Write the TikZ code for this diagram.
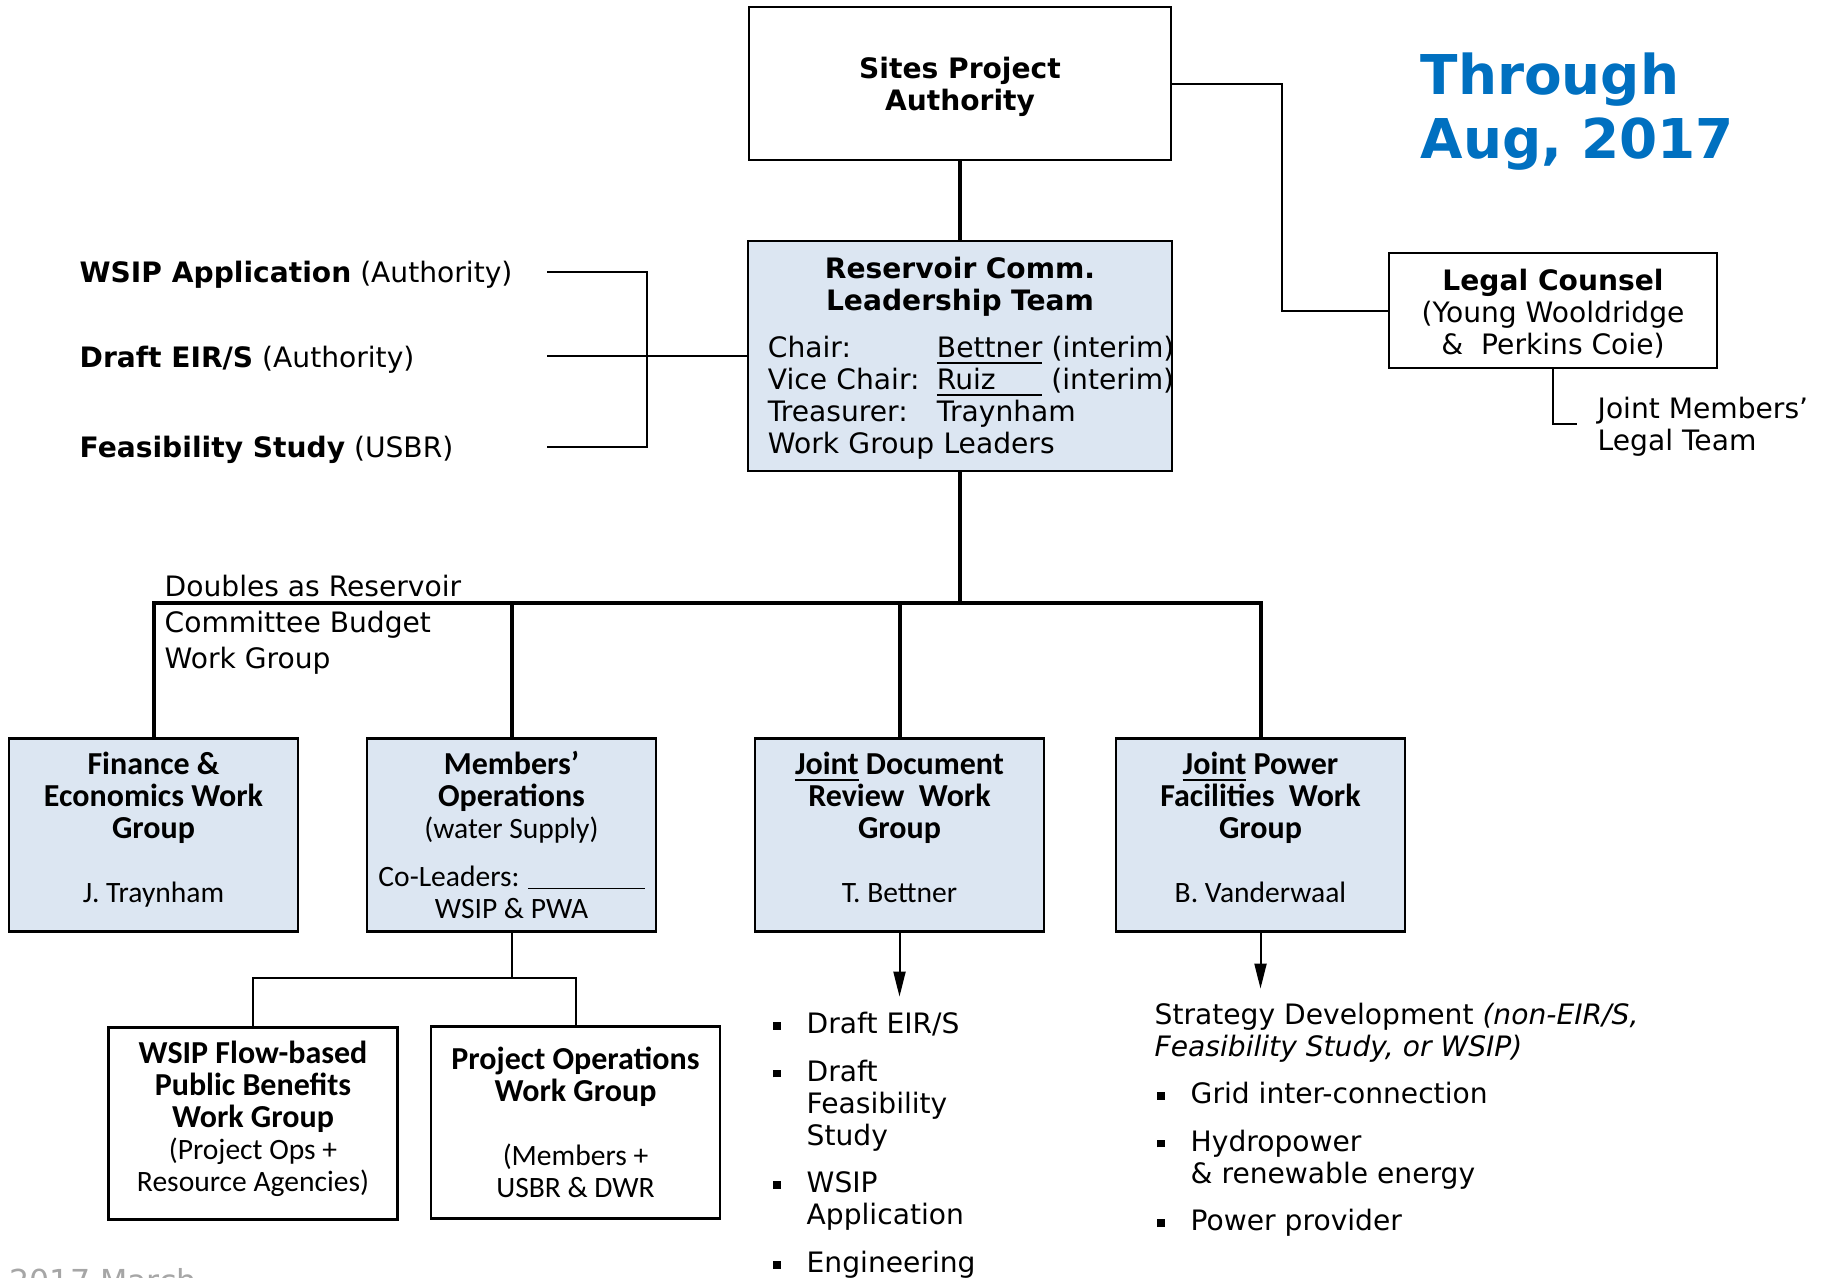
\documentclass[tikz,border=0pt]{standalone}
\usepackage{fontspec}
\setmainfont{DejaVu Sans}
\newfontfamily\calib{Carlito}
\usetikzlibrary{arrows.meta,positioning}
\definecolor{boxBlue}{HTML}{DCE6F2}
\definecolor{titleBlue}{HTML}{0070C0}
\definecolor{noteGray}{HTML}{A6A6A6}
\newcommand{\bul}{\makebox[0pt][r]{\rule[1.1pt]{2.2pt}{2.2pt}\hspace{0.26cm}}}
\newcommand{\wgb}[1]{{\bfseries\fontsize{9.1}{9.07}\selectfont #1}}
\newcommand{\topstrut}[1]{\rule{0pt}{#1}}

\begin{document}
\begin{tikzpicture}[x=0.01cm, y=-0.01cm,
	box/.style={draw, line width=0.025cm, align=center, inner sep=0},
	wgbox/.style={box, fill=boxBlue, minimum width=2.89cm, minimum height=1.93cm, anchor=north},
	opsbox/.style={box, fill=white, minimum width=2.89cm, minimum height=1.92cm, anchor=north},
	wgtext/.style={align=center, inner sep=0, font=\calib\fontsize{8.4}{9.07}\selectfont},
	vtext/.style={font=\fontsize{8}{9.07}\selectfont},
	thickline/.style={line width=0.04cm},
	thinline/.style={line width=0.02cm},
	arrowline/.style={thinline, -{Triangle[length=0.25cm, width=0.12cm]}}]
	\useasboundingbox (0,0) rectangle (1829,1278);

	% top of the chart
	\node[box, fill=white, minimum width=4.22cm, minimum height=1.53cm, font=\bfseries\fontsize{8}{9.07}\selectfont] (spa) at (960,83.5) {\topstrut{8.1pt}Sites Project\\Authority};
	\node[box, fill=boxBlue, minimum width=4.24cm, minimum height=2.30cm, text width=3.84cm, vtext] (rclt) at (960,356) {\topstrut{7.4pt}\textbf{Reservoir Comm.}\\\textbf{Leadership Team}\\[4.4pt]
		\makebox[3.84cm][l]{\makebox[1.69cm][l]{Chair:}\underline{Bettner} (interim)}\\
		\makebox[3.84cm][l]{\makebox[1.69cm][l]{Vice Chair:}\underline{\makebox[1.05cm][l]{Ruiz}} (interim)}\\
		\makebox[3.84cm][l]{\makebox[1.69cm][l]{Treasurer:}Traynham}\\
		\makebox[3.84cm][l]{Work Group Leaders}};
	\node[box, fill=white, minimum width=3.28cm, minimum height=1.15cm, vtext] (lc) at (1553,310.5) {\topstrut{7.8pt}\textbf{Legal Counsel}\\(Young Wooldridge\\\&~ Perkins Coie)};
	\node[vtext, anchor=north west, inner sep=0, align=left] (jmlt) at (1597,396.5) {Joint Members’\\Legal Team};
	\node[anchor=base west, inner sep=0, text=titleBlue, font=\bfseries\fontsize{15.6}{18}\selectfont] (thru) at (1420,94) {Through};
	\node[anchor=base west, inner sep=0, text=titleBlue, font=\bfseries\fontsize{15.6}{18}\selectfont] (when) at (1420,158) {Aug, 2017};

	\draw[thickline] (spa.south) -- (rclt.north);
	\draw[thinline] (spa.east) -- ++(110,0) |- (lc.west);
	\draw[thinline] (lc.south) |- ++(24,55);

	% products on the left
	\node[vtext, anchor=base west, inner sep=0] (wsip) at (79,282) {\textbf{WSIP Application} (Authority)};
	\node[vtext, anchor=base west, inner sep=0] (eirs) at (79,367) {\textbf{Draft EIR/S} (Authority)};
	\node[vtext, anchor=base west, inner sep=0] (feas) at (79,457) {\textbf{Feasibility Study} (USBR)};
	\coordinate (wsipend) at (547,272);
	\coordinate (eirsend) at (547,356);
	\coordinate (feasend) at (547,447);
	\draw[thinline] (wsipend) -- ++(100,0) |- (feasend);
	\draw[thinline] (eirsend) -- (rclt.west);

	% work groups
	\node[vtext, anchor=north west, inner sep=0, align=left, font=\fontsize{8}{10.2}\selectfont] (budget) at (164,574.5) {Doubles as Reservoir\\Committee Budget\\Work Group};
	\node[wgbox] (fin) at (153.5,737) {};
	\node[wgtext, below=0.126cm of fin.north] (fintext) {\topstrut{7pt}\wgb{Finance \&}\\\wgb{Economics Work}\\\wgb{Group}\\[9.07pt]J. Traynham};
	\node[wgbox] (memb) at (511.5,737) {};
	\node[wgtext, below=0.126cm of memb.north] (membtext) {\topstrut{7pt}\wgb{Members’}\\\wgb{Operations}\\(water Supply)\\[4.5pt]Co-Leaders: \rule[-0.03cm]{1.16cm}{0.015cm}\\WSIP \& PWA};
	\node[wgbox] (jdr) at (899.5,737) {};
	\node[wgtext, below=0.126cm of jdr.north] (jdrtext) {\topstrut{7pt}\wgb{\underline{Joint} Document}\\\wgb{Review~ Work}\\\wgb{Group}\\[9.07pt]T. Bettner};
	\node[wgbox] (jpf) at (1260.5,737) {};
	\node[wgtext, below=0.126cm of jpf.north] (jpftext) {\topstrut{7pt}\wgb{\underline{Joint} Power}\\\wgb{Facilities~ Work}\\\wgb{Group}\\[9.07pt]B. Vanderwaal};

	\coordinate (bus) at (960,603);
	\draw[thickline] (rclt.south) -- (bus);
	\draw[thickline] (fin.north) |- (bus) -| (jpf.north);
	\draw[thickline] (memb.north) -- (memb.north |- bus);
	\draw[thickline] (jdr.north) -- (jdr.north |- bus);

	% operations sub groups
	\node[opsbox] (flow) at (253,1026) {};
	\node[wgtext, below=0.126cm of flow.north] (flowtext) {\topstrut{7pt}\wgb{WSIP Flow-based}\\\wgb{Public Benefits}\\\wgb{Work Group}\\(Project Ops +\\Resource Agencies)};
	\node[opsbox] (projops) at (575.5,1025) {};
	\node[wgtext, below=0.196cm of projops.north] (projopstext) {\topstrut{7pt}\wgb{Project Operations}\\\wgb{Work Group}\\[9.07pt](Members +\\USBR \& DWR};
	\coordinate (opsbus) at (511.5,978);
	\draw[thinline] (memb.south) -- (opsbus);
	\draw[thinline] (flow.north) |- (opsbus) -| (projops.north);

	% task lists
	\draw[arrowline] (jdr.south) -- ++(0,64);
	\draw[arrowline] (jpf.south) -- ++(0,56);
	\node[vtext, anchor=north west, inner sep=0, align=left] (docs) at (806,1011.5) {\bul Draft EIR/S\\[4.5pt]\bul Draft\\Feasibility\\Study\\[4.5pt]\bul WSIP\\Application\\[4.5pt]\bul Engineering};
	\node[vtext, anchor=north west, inner sep=0, align=left] (strat) at (1154,1002.5) {Strategy Development \textit{(non-EIR/S,}\\\textit{Feasibility Study, or WSIP)}};
	\node[vtext, anchor=north west, inner sep=0, align=left] (power) at (1190,1081.5) {\bul Grid inter-connection\\[4.5pt]\bul Hydropower\\\& renewable energy\\[4.5pt]\bul Power provider};

	\node[anchor=base west, inner sep=0, text=noteGray, font=\fontsize{9}{10}\selectfont] (stamp) at (9,1292) {2017 March};
\end{tikzpicture}
\end{document}
